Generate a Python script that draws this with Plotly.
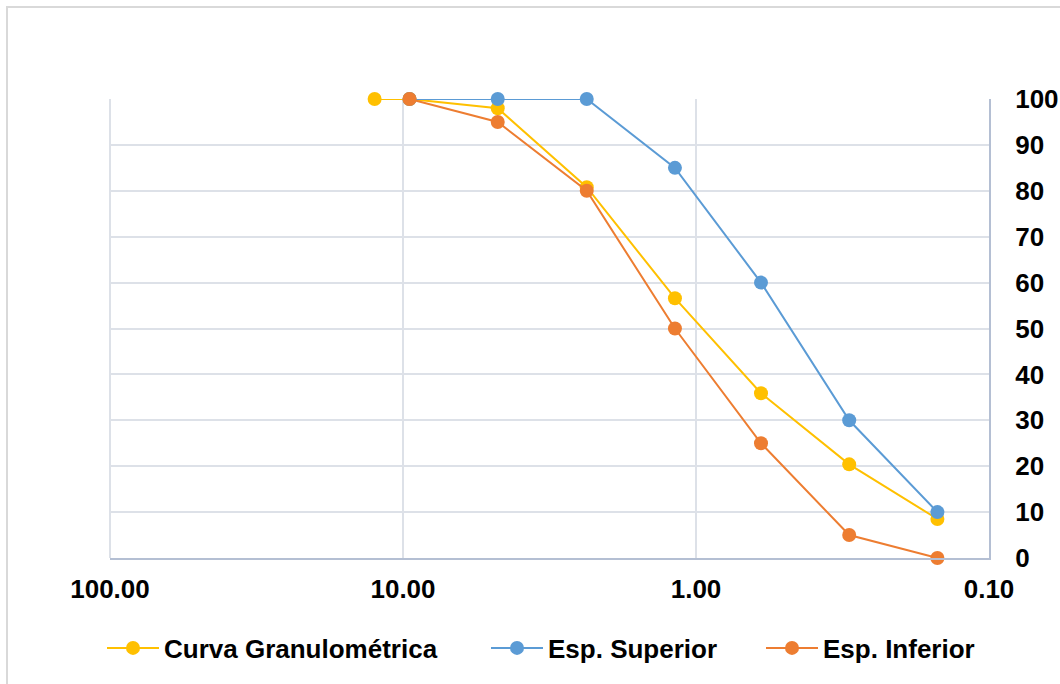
import plotly.graph_objects as go

# Data
sizes_curva = [12.5, 9.5, 4.75, 2.36, 1.18, 0.6, 0.3, 0.15]
pass_curva = [100, 100, 98, 80.8, 56.6, 35.9, 20.4, 8.5]
sizes_esp = [9.5, 4.75, 2.36, 1.18, 0.6, 0.3, 0.15]
pass_sup = [100, 100, 100, 85, 60, 30, 10]
pass_inf = [100, 95, 80, 50, 25, 5, 0]
x_ticks = [100, 10, 1, 0.1]
x_tick_labels = ["100.00", "10.00", "1.00", "0.10"]
y_ticks = list(range(0, 101, 10))

W, H = 1060, 684
L, R, T, B = 110, 989, 99, 558
pw, ph = R - L, B - T

def px(x):
    return (x - L) / pw

def py(y):
    return (B - y) / ph

font_b = "Liberation Sans, Arial, sans-serif"
FS = 26

fig = go.Figure()
series = [
    ("Curva Granulométrica", sizes_curva, pass_curva, "#FFC000", "legend", 102),
    ("Esp. Superior", sizes_esp, pass_sup, "#5B9BD5", "legend2", 486),
    ("Esp. Inferior", sizes_esp, pass_inf, "#ED7D31", "legend3", 761),
]
legends = {}
for name, xs, ys, col, lg, lx in series:
    fig.add_trace(go.Scatter(
        x=xs, y=ys, name=name, mode="lines+markers",
        line=dict(color=col, width=2),
        marker=dict(color=col, size=14, line=dict(width=0)),
        cliponaxis=False, legend=lg,
    ))
    legends[lg] = dict(orientation="h", x=px(lx), xanchor="left", y=py(648), yanchor="middle",
                       font=dict(size=FS, family=font_b, weight="bold", color="black"),
                       itemwidth=52, bgcolor="rgba(0,0,0,0)")

fig.update_layout(
    width=W, height=H,
    margin=dict(l=L, r=W - R, t=T, b=H - B, autoexpand=False),
    paper_bgcolor="white", plot_bgcolor="white",
    font=dict(family=font_b, color="black"),
    showlegend=True,
    xaxis=dict(type="log", range=[2, -1], tickvals=x_ticks, ticktext=x_tick_labels,
               showgrid=True, gridcolor="#DDE1E8", gridwidth=2,
               showline=True, linecolor="#B4BFD3", linewidth=2,
               tickfont=dict(size=FS, weight="bold"), ticks="", ticklabelstandoff=7,
               zeroline=False, automargin=False),
    yaxis=dict(range=[0, 100], tickvals=y_ticks, side="right",
               showgrid=True, gridcolor="#DDE1E8", gridwidth=2,
               showline=True, linecolor="#B4BFD3", linewidth=2,
               tickfont=dict(size=FS, weight="bold"), ticks="", ticklabelstandoff=19,
               zeroline=False, automargin=False),
    **legends,
)
# Left edge line of plot (gridline at 100)
fig.add_shape(type="line", xref="paper", yref="paper", x0=0, x1=0, y0=0, y1=1,
              line=dict(color="#DDE1E8", width=2), layer="below")
# Outer chart border
fig.add_shape(type="rect", xref="paper", yref="paper",
              x0=px(7), x1=px(1080), y0=py(700), y1=py(7),
              line=dict(color="#D9D9D9", width=2), fillcolor="rgba(0,0,0,0)")

fig.write_html("out.html", config={"displayModeBar": False},
               post_script="document.body.style.margin='0';")
